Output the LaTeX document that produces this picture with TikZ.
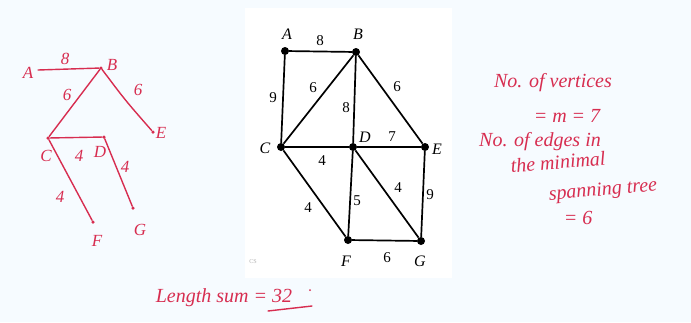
\documentclass[tikz,border=0pt]{standalone}
\usepackage{fontspec}
\setmainfont{Liberation Serif}
\begin{document}
\begin{tikzpicture}[x=1pt,y=-1pt,
  vtx/.style={circle,fill=black,inner sep=0pt,minimum size=8pt},
  edge/.style={line width=1.7pt,black},
  vlab/.style={font=\fontsize{16}{16}\selectfont\itshape,inner sep=0pt},
  wlab/.style={font=\fontsize{15}{15}\selectfont,inner sep=0pt},
  rdot/.style={circle,fill=hand,inner sep=0pt,minimum size=3.5pt},
  redge/.style={line width=1.4pt,hand,line cap=round},
  rlab/.style={font=\fontsize{17}{17}\selectfont\itshape,text=hand,inner sep=0pt},
  rtext/.style={font=\fontsize{20}{20}\selectfont\itshape,text=hand,inner sep=0pt}]
\definecolor{hand}{RGB}{215,45,80}
\definecolor{bg}{RGB}{246,251,255}
\fill[bg] (0,0) rectangle (691,322);
\useasboundingbox (0,0) rectangle (691,322);
\fill[white] (245,8) rectangle (452,278);
% ---- printed graph ----
\node[vtx] (A) at (285,51) {};
\node[vtx] (B) at (356,52) {};
\node[vtx] (C) at (281,147) {};
\node[vtx] (D) at (353,147) {};
\node[vtx] (E) at (425,147) {};
\node[vtx] (F) at (348,240) {};
\node[vtx] (G) at (421,241) {};
\draw[edge] (A) -- (B);
\draw[edge] (A) -- (C);
\draw[edge] (B) -- (C);
\draw[edge] (B) -- (D);
\draw[edge] (B) -- (E);
\draw[edge] (C) -- (D);
\draw[edge] (D) -- (E);
\draw[edge] (C) -- (F);
\draw[edge] (D) -- (F);
\draw[edge] (D) -- (G);
\draw[edge] (E) -- (G);
\draw[edge] (F) -- (G);
\node[vlab] (lA) at (287,34) {A};
\node[vlab] (lB) at (358,34) {B};
\node[vlab] (lC) at (265,148) {C};
\node[vlab] (lD) at (365,137) {D};
\node[vlab] (lE) at (437,149) {E};
\node[vlab] (lF) at (346,261) {F};
\node[vlab] (lG) at (420,261) {G};
\node[wlab] (wAB) at (320,41) {8};
\node[wlab] (wAC) at (273,98) {9};
\node[wlab] (wBC) at (313,88) {6};
\node[wlab] (wBD) at (346,108) {8};
\node[wlab] (wBE) at (397,87) {6};
\node[wlab] (wDE) at (392,137) {7};
\node[wlab] (wCD) at (322,161) {4};
\node[wlab] (wCF) at (308,208) {4};
\node[wlab] (wDF) at (357,201) {5};
\node[wlab] (wDG) at (398,188) {4};
\node[wlab] (wEG) at (430,195) {9};
\node[wlab] (wFG) at (387,258) {6};
\node[font=\fontsize{6}{6}\selectfont,text=gray!60,inner sep=0pt] (cs) at (253,262) {CS};
% ---- hand-drawn tree ----
\coordinate (a) at (38,70);
\node[rdot] (b) at (101,68) {};
\node[rdot] (c) at (48,138) {};
\node[rdot] (d) at (104,137) {};
\node[rdot] (e) at (153,132) {};
\node[rdot] (f) at (93,222) {};
\node[rdot] (g) at (133,208) {};
\draw[redge] (a) -- (b);
\draw[redge] (b) -- (c);
\draw[redge] (b) .. controls (125,100) .. (e);
\draw[redge] (c) -- (d);
\draw[redge] (c) -- (f);
\draw[redge] (d) -- (g);
\node[rlab] (ra) at (28,73) {A};
\node[rlab] (rb) at (112,65) {B};
\node[rlab] (rc) at (46,156) {C};
\node[rlab] (rd) at (100,152) {D};
\node[rlab] (re) at (161,133) {E};
\node[rlab] (rf) at (97,241) {F};
\node[rlab] (rg) at (140,230) {G};
\node[rlab] (r8) at (65,59) {8};
\node[rlab] (r6a) at (67,95) {6};
\node[rlab] (r6b) at (138,90) {6};
\node[rlab] (r4a) at (79,156) {4};
\node[rlab] (r4b) at (60,197) {4};
\node[rlab] (r4c) at (125,167) {4};
% ---- hand notes ----
\node[rtext] (t1) at (553,83) {No. of vertices};
\node[rtext] (t2) at (567,116) {= m = 7};
\node[rtext] (t3) at (540,142) {No. of edges in};
\node[rtext,rotate=5] (t4) at (558,162) {the minimal};
\node[rtext,rotate=5] (t5) at (603,191) {spanning tree};
\node[rtext] (t6) at (578,218) {= 6};
\node[rtext] (t7) at (224,298) {Length sum = 32};
\coordinate (u1) at (268,311);
\coordinate (u2) at (312,306);
\draw[redge] (u1) -- (u2);
\node[rdot,minimum size=2pt] (pt) at (310,290) {};
\end{tikzpicture}
\end{document}
